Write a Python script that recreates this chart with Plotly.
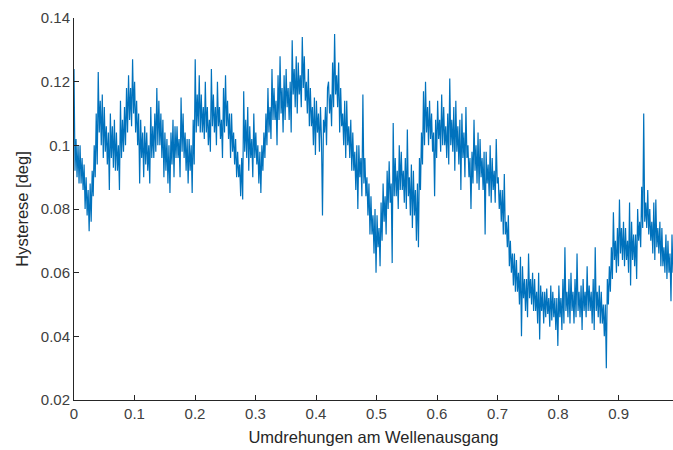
import numpy as np
import plotly.graph_objects as go

# Hysteresis readings in millidegrees, 6 readings per 0.01 revolution
hyst_mdeg = [
    124, 92, 102, 90, 100, 88,     100, 88, 96, 86, 94, 80,       90, 78, 86, 73, 88, 76,
    92, 84, 100, 90, 110, 94,      123, 104, 114, 100, 116, 96,   112, 98, 106, 94, 104, 86,
    110, 96, 106, 93, 108, 92,     104, 92, 100, 86, 114, 96,     108, 98, 112, 100, 118, 104,
    122, 108, 118, 106, 127, 110,  120, 104, 114, 100, 110, 88,   108, 96, 104, 90, 106, 94,
    104, 92, 100, 88, 112, 96,     106, 96, 110, 98, 118, 100,    114, 100, 110, 96, 108, 90,
    104, 92, 102, 88, 100, 85,     104, 94, 108, 90, 106, 96,     106, 96, 102, 90, 115, 98,
    110, 96, 104, 92, 102, 88,     102, 92, 100, 85, 108, 94,     127, 104, 116, 106, 122, 104,
    116, 104, 112, 102, 120, 104,  112, 100, 108, 98, 124, 106,   116, 104, 112, 100, 120, 106,
    112, 102, 108, 96, 118, 104,   122, 106, 114, 102, 110, 96,   110, 98, 104, 94, 102, 90,
    98, 90, 94, 84, 96, 83,        117, 98, 108, 96, 112, 92,     106, 96, 102, 90, 110, 96,
    104, 94, 100, 88, 98, 85,      100, 92, 104, 96, 110, 100,    118, 104, 112, 102, 124, 108,
    118, 108, 114, 100, 122, 108,  128, 110, 118, 104, 122, 108,  124, 112, 118, 108, 120, 104,
    133, 116, 124, 112, 128, 110,  126, 116, 122, 112, 134, 118,  128, 114, 120, 110, 124, 106,
    118, 106, 112, 100, 115, 97,   114, 104, 110, 98, 112, 102,   78, 108, 104, 112, 100, 118,
    120, 110, 116, 106, 126, 112,  135, 116, 122, 112, 126, 104,  118, 106, 110, 100, 114, 96,
    114, 100, 106, 96, 108, 92,    104, 92, 98, 86, 100, 80,      100, 90, 96, 84, 116, 88,
    96, 84, 90, 78, 88, 72,        84, 72, 78, 66, 80, 60,        78, 68, 74, 62, 82, 70,
    88, 76, 84, 72, 92, 80,        95, 82, 88, 63, 107, 84,       96, 84, 92, 80, 100, 86,
    98, 86, 92, 82, 96, 80,        105, 84, 90, 78, 94, 74,       92, 78, 86, 70, 88, 68,
    96, 86, 104, 94, 117, 100,     120, 104, 112, 100, 114, 102,  110, 98, 104, 84, 108, 96,
    114, 102, 108, 98, 116, 100,   112, 100, 106, 96, 110, 94,    121, 100, 108, 98, 112, 92,
    114, 98, 106, 94, 108, 86,     110, 96, 104, 90, 112, 96,     100, 90, 96, 80, 98, 88,
    108, 92, 100, 88, 104, 86,     102, 90, 96, 86, 98, 72,       98, 88, 94, 84, 100, 82,
    96, 86, 92, 82, 102, 88,       90, 80, 86, 76, 86, 72,        91, 72, 76, 68, 78, 62,
    70, 60, 66, 56, 66, 54,        64, 54, 60, 50, 65, 40,        62, 52, 58, 48, 58, 46,
    66, 52, 58, 50, 60, 48,        58, 48, 54, 44, 60, 39,        56, 48, 54, 44, 54, 46,
    55, 47, 52, 43, 56, 45,        54, 46, 52, 42, 52, 37,        56, 46, 52, 42, 58, 44,
    68, 48, 54, 46, 58, 44,        60, 48, 54, 44, 58, 46,        66, 48, 54, 46, 56, 42,
    58, 48, 54, 46, 62, 48,        56, 48, 54, 44, 58, 42,        68, 48, 54, 46, 56, 44,
    54, 44, 50, 40, 50, 30,        58, 50, 62, 54, 68, 58,        79, 64, 70, 60, 74, 62,
    83, 66, 74, 64, 76, 62,        74, 64, 70, 60, 82, 56,        76, 64, 72, 62, 72, 58,
    80, 70, 76, 68, 87, 74,        110, 76, 82, 74, 86, 72,       80, 70, 76, 66, 82, 64,
    83, 68, 74, 66, 76, 62,        74, 62, 68, 60, 72, 58,        70, 60, 66, 51, 72, 60,
]

x_ticks = [0, 0.1, 0.2, 0.3, 0.4, 0.5, 0.6, 0.7, 0.8, 0.9]
x_ticktext = ["0", "0.1", "0.2", "0.3", "0.4", "0.5", "0.6", "0.7", "0.8", "0.9"]
y_ticks = [0.02, 0.04, 0.06, 0.08, 0.10, 0.12, 0.14]
y_ticktext = ["0.02", "0.04", "0.06", "0.08", "0.1", "0.12", "0.14"]

x_end = 0.99
hysterese = np.array(hyst_mdeg) / 1000.0
umdrehungen = np.linspace(0, x_end, len(hysterese))

font_family = "Liberation Sans, Arial, sans-serif"
axis_color = "#262626"

fig = go.Figure(
    go.Scatter(
        x=umdrehungen,
        y=hysterese,
        mode="lines",
        line=dict(color="#0072BD", width=1.2),
        hoverinfo="skip",
    )
)

fig.update_layout(
    width=673,
    height=450,
    autosize=False,
    margin=dict(l=74, r=0, t=18, b=50),
    paper_bgcolor="white",
    plot_bgcolor="white",
    showlegend=False,
    font=dict(family=font_family, color="#404040", size=15),
)

fig.update_xaxes(
    range=[0, x_end],
    tickvals=x_ticks,
    ticktext=x_ticktext,
    ticks="inside",
    ticklen=5,
    tickcolor=axis_color,
    showline=True,
    linecolor=axis_color,
    linewidth=1,
    showgrid=False,
    zeroline=False,
    automargin=False,
    tickfont=dict(size=15, color="#404040"),
    title=dict(text="Umdrehungen am Wellenausgang", font=dict(size=16.5, color="#262626"), standoff=10),
)

fig.update_yaxes(
    range=[0.02, 0.14],
    tickvals=y_ticks,
    ticktext=y_ticktext,
    ticks="inside",
    ticklen=5,
    tickcolor=axis_color,
    showline=True,
    linecolor=axis_color,
    linewidth=1,
    showgrid=False,
    zeroline=False,
    automargin=False,
    tickfont=dict(size=15, color="#404040"),
    title=dict(text="Hysterese [deg]", font=dict(size=16.5, color="#262626"), standoff=8),
)

# remove the browser's default 8px page margin so the 673x450 figure fills the window
fig.write_html(
    "out.html",
    config={"displayModeBar": False},
    post_script="document.body.style.margin='0';document.body.style.overflow='hidden';",
)
